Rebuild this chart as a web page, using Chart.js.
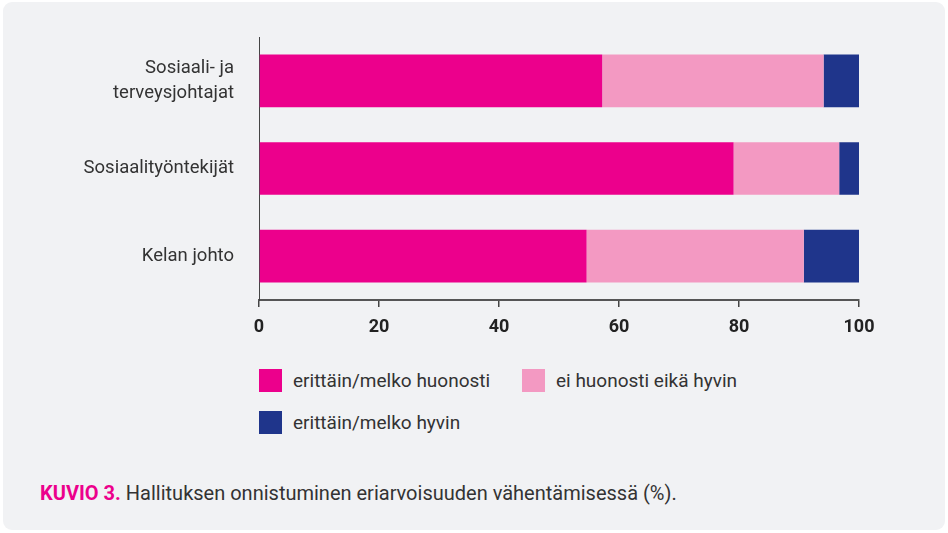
<!DOCTYPE html>
<html>
<head>
<meta charset="utf-8">
<script src="https://cdn.jsdelivr.net/npm/chart.js@4"></script>
<style>
  body { margin: 0; background: #fff; font-family: Roboto, sans-serif; }
  #panel {
    position: absolute; left: 3px; top: 2px; width: 942px; height: 528px;
    background: #f1f2f4; border-radius: 9px;
  }
  #wrap { position: absolute; left: 0; top: 0; width: 948px; height: 345px; }
  #legend {
    position: absolute; left: 259px; top: 369px;
    display: grid; grid-template-columns: 263px 263px; row-gap: 19px;
    font-size: 19px; color: #333;
  }
  .item { display: flex; align-items: center; height: 23px; }
  .box { width: 23px; height: 23px; margin-right: 11px; }
  #caption {
    position: absolute; left: 40px; top: 481px; font-size: 20px; color: #333;
  }
  #caption b { color: #ec008c; font-weight: 700; }
</style>
</head>
<body>
<div id="panel"></div>
<div id="wrap"><canvas id="chart" width="948" height="345"></canvas></div>
<div id="legend"></div>
<div id="caption"><b>KUVIO 3.</b> Hallituksen onnistuminen eriarvoisuuden vähentämisessä (%).</div>
<script>
const groups = [['Sosiaali- ja', 'terveysjohtajat'], 'Sosiaalityöntekijät', 'Kelan johto'];
const seriesNames = ['erittäin/melko huonosti', 'ei huonosti eikä hyvin', 'erittäin/melko hyvin'];
const huonosti = [57.2, 79.1, 54.6];
const eiHuonosti = [36.9, 17.6, 36.2];
const hyvin = [5.9, 3.3, 9.2];
const xTicks = [0, 20, 40, 60, 80, 100];

const colors = ['#ec008c', '#f399c2', '#1f358b'];

const ctx = document.getElementById('chart');
const chart = new Chart(ctx, {
  type: 'bar',
  data: {
    labels: groups,
    datasets: [huonosti, eiHuonosti, hyvin].map((d, i) => ({
      label: seriesNames[i],
      data: d,
      backgroundColor: colors[i],
      borderWidth: 0,
      categoryPercentage: 1,
      barPercentage: 0.6
    }))
  },
  options: {
    indexAxis: 'y',
    responsive: false,
    animation: false,
    layout: { padding: { top: 37, right: 89, left: 0, bottom: 0 } },
    plugins: { legend: { display: false }, tooltip: { enabled: false } },
    scales: {
      x: {
        stacked: true,
        min: 0, max: 100,
        afterBuildTicks: s => { s.ticks = xTicks.map(v => ({ value: v })); },
        afterFit: s => { s.height = 45; },
        border: { color: '#555', width: 2 },
        grid: { drawOnChartArea: false, tickLength: 7, color: '#444', lineWidth: 1.5 },
        ticks: { padding: 10, color: '#222', font: { family: 'Roboto', size: 18, weight: 'bold' } }
      },
      y: {
        stacked: true,
        afterFit: s => { s.width = 259; },
        border: { color: '#444', width: 1 },
        grid: { display: false },
        ticks: { padding: 17, color: '#333', font: { family: 'Roboto', size: 18.5, lineHeight: 1.4 } }
      }
    }
  }
});

// legend built from the datasets
const legend = document.getElementById('legend');
chart.data.datasets.forEach(ds => {
  const it = document.createElement('div');
  it.className = 'item';
  it.innerHTML = '<span class="box" style="background:' + ds.backgroundColor + '"></span>' + ds.label;
  legend.appendChild(it);
});
</script>
</body>
</html>
